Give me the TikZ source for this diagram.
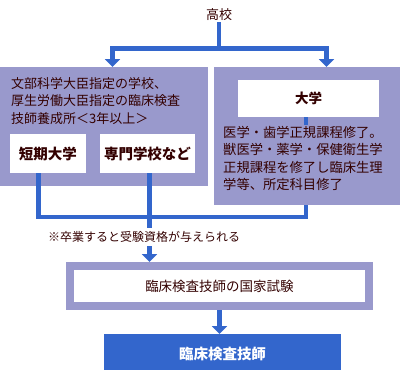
\documentclass[tikz,border=0pt]{standalone}
\usepackage{fontspec}
\setmainfont{Noto Sans CJK JP}
\usetikzlibrary{arrows.meta,calc}
\definecolor{flowblue}{HTML}{3366CC}
\definecolor{boxpurple}{HTML}{9999CC}
\definecolor{ink}{HTML}{330000}
\begin{document}
\begin{tikzpicture}[x=1pt,y=-1pt,
  txt/.style={text=ink,inner sep=1pt,font=\fontsize{13}{17.5}\selectfont},
  pbox/.style={fill=boxpurple,inner sep=0pt,outer sep=0pt},
  wbox/.style={fill=white,inner sep=0pt,outer sep=0pt,text=ink,font=\fontsize{14.5}{17}\selectfont\bfseries},
  flow/.style={draw=flowblue,line width=4.5pt,line join=miter},
  arr/.style={flow,-{Triangle[width=15pt,length=8pt]}}]
\useasboundingbox (0,0) rectangle (400,370);
% top
\node[txt] (koko) at (219,15) {高校};
\coordinate (split) at (219,48.5);
\coordinate (lt) at (112.5,67);
\coordinate (rt) at (326.5,67);
% boxes
\node[pbox,minimum width=208pt,minimum height=119pt] (left) at (104,126.5) {};
\node[pbox,minimum width=186pt,minimum height=138pt] (right) at (307,136) {};
\node[txt,anchor=north west,align=left,inner sep=0pt] (lefttext) at (11,77)
  {文部科学大臣指定の学校、\\厚生労働大臣指定の臨床検査\\技師養成所＜3年以上＞};
\node[wbox,minimum width=76pt,minimum height=39pt] (tanki) at (48,153.5) {短期大学};
\node[wbox,minimum width=95pt,minimum height=39pt] (senmon) at (147.5,153.5) {専門学校など};
\node[wbox,minimum width=141pt,minimum height=37pt,font=\fontsize{13.5}{16}\selectfont\bfseries] (daigaku) at (308.5,98.5) {大学};
\node[txt,anchor=north west,align=left,inner sep=0pt,font=\fontsize{13.3}{17.3}\selectfont] (righttext) at (223,126)
  {医学・歯学正規課程修了。\\獣医学・薬学・保健衛生学\\正規課程を修了し臨床生理\\学等、所定科目修了};
% exam and final
\node[draw=boxpurple,line width=8pt,fill=white,minimum width=299pt,minimum height=40pt,inner sep=0pt,
  text=ink,font=\fontsize{13.5}{16}\selectfont] (exam) at (219.5,286) {臨床検査技師の国家試験};
\node[fill=flowblue,minimum width=237pt,minimum height=40pt,inner sep=0pt,outer sep=0pt,
  text=white,font=\fontsize{14.5}{17}\selectfont\bfseries] (final) at (222.5,354) {臨床検査技師};
% connectors
\draw[flow] (koko.south) -- (split);
\draw[arr] (split) -| (lt);
\draw[arr] (split) -| (rt);
\coordinate (tb) at (38.5,173);
\coordinate (sb) at (149.5,173);
\coordinate (rb) at (306,205);
\coordinate (join) at (149.5,217);
\draw[flow] (tb) |- (join) -| (rb);
\draw[arr] (sb) -- (sb |- exam.north);
\draw[flow] (daigaku.south -| rb) -- ++(0,8);
\draw[arr] (exam.south) -- (final.north -| exam.south);
% note (drawn over the connector)
\node[txt,anchor=west,fill=white,inner xsep=1pt,inner ysep=3pt,font=\fontsize{12}{14}\selectfont] (note) at (47,237) {※卒業すると受験資格が与えられる};
\end{tikzpicture}
\end{document}
